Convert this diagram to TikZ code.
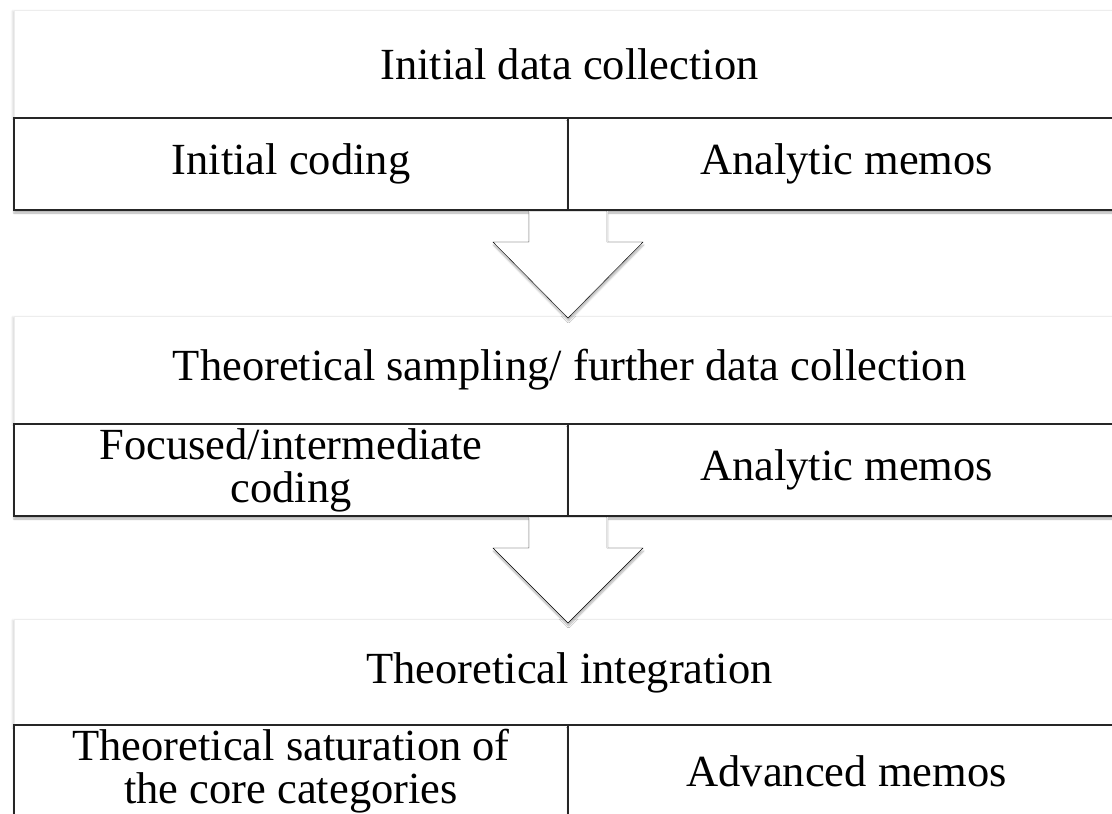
\documentclass[tikz,border=0pt]{standalone}
\usepackage{fontspec}
\setmainfont{Liberation Serif}
\usetikzlibrary{shadows.blur,calc}

\begin{document}
\begin{tikzpicture}[
		x=1pt,y=-1pt,
		every node/.style={font=\fontsize{44.5}{43}\selectfont, align=center, outer sep=0pt, inner sep=0pt},
		panel/.style={fill=white, draw=black!7, minimum width=1111pt, minimum height=108pt,
			blur shadow={shadow xshift=-1.5pt, shadow yshift=-1pt, shadow opacity=15, shadow blur steps=4}},
		cell/.style={draw=black!85, line width=1.3pt, fill=white, minimum height=92pt,
			blur shadow={shadow xshift=0pt, shadow yshift=-3pt, shadow opacity=30, shadow blur steps=5}},
		stagearrow/.style={fill=white,
			blur shadow={shadow xshift=0.5pt, shadow yshift=-3pt, shadow opacity=30, shadow blur steps=6}},
		stemedge/.style={draw=black!10, line width=0.8pt},
	]
	\useasboundingbox (0,0) rectangle (1112,814);

	\node[panel] (collect) at (569.5,64) {Initial data collection};
	\node[cell, minimum width=554pt] (coding1) at (291,164) {Initial coding};
	\node[cell, minimum width=557pt] (memos1) at (846.5,164) {Analytic memos};

	\node[panel] (sampling) at (569.5,370) {Theoretical sampling/ further data collection};
	\node[cell, minimum width=554pt] (coding2) at (291,470) {Focused/intermediate\\coding};
	\node[cell, minimum width=557pt] (memos2) at (846.5,470) {Analytic memos};

	\node[panel] (integrate) at (569.5,673) {Theoretical integration};
	\node[cell, minimum width=554pt] (coding3) at (291,771) {Theoretical saturation of\\the core categories};
	\node[cell, minimum width=557pt] (memos3) at (846.5,771) {Advanced memos};

	\draw[stagearrow] ([xshift=-39pt,yshift=-1pt]coding1.south east) -- ++(78,0) -- ++(0,31) -- ++(36,0)
		-- ++(-75,76) -- ++(-75,-76) -- ++(36,0) -- cycle;
	\draw[stemedge] ([xshift=-39pt,yshift=-1pt]coding1.south east) -- ++(0,31) ++(78,0) -- ++(0,-31);
	\draw[stagearrow] ([xshift=-39pt,yshift=-1pt]coding2.south east) -- ++(78,0) -- ++(0,31) -- ++(36,0)
		-- ++(-75,75) -- ++(-75,-75) -- ++(36,0) -- cycle;
	\draw[stemedge] ([xshift=-39pt,yshift=-1pt]coding2.south east) -- ++(0,31) ++(78,0) -- ++(0,-31);

\end{tikzpicture}
\end{document}
